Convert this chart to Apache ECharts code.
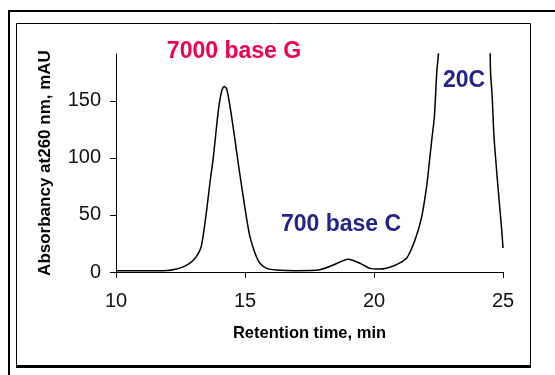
<!DOCTYPE html>
<html><head><meta charset="utf-8">
<script src="https://cdn.jsdelivr.net/npm/echarts@6/dist/echarts.min.js"></script>
<style>html,body{margin:0;padding:0;background:#fff}#c{width:555px;height:375px}</style>
</head><body><div id="c"></div>
<script>
// Retention time (min) and absorbance (mAU)
const retentionTime = [10.0, 11.0, 12.0, 12.3, 12.6, 12.85, 13.1, 13.3, 13.49, 13.64, 13.77, 13.97, 14.1, 14.19, 14.29, 14.44, 14.61, 14.74, 14.87, 15.04, 15.19, 15.39, 15.58, 15.84, 16.2, 17.0, 17.9, 18.42, 19.0, 19.46, 19.84, 20.23, 20.75, 21.26, 21.59, 21.85, 22.04, 22.14, 22.24, 22.34, 22.43, 22.5, 22.6, 23.5, 24.4, 24.5, 24.52, 24.58, 24.65, 24.75, 24.86, 24.95, 25.0];
const absorbance    = [1.0, 1.0, 1.4, 2.5, 4.5, 7.5, 13, 22, 50, 78, 100, 142, 159, 162.5, 160.5, 142, 116, 95, 75, 50, 31, 16.5, 7.6, 3.2, 1.8, 1.2, 2.0, 6.1, 11.1, 7.6, 3.2, 2.6, 5.3, 12, 28, 48.5, 75, 95, 116, 136, 174, 192, 240, 420, 240, 192, 174, 154, 119, 89.5, 60, 37, 21];
const xTicks = [10, 15, 20, 25];
const yTicks = [0, 50, 100, 150];
const peakLabels = ['7000 base G', '700 base C', '20C'];
const xTitle = 'Retention time, min';
const yTitle = 'Absorbancy at260 nm, mAU';

const FONT = '"Liberation Sans", Arial, sans-serif';
const chart = echarts.init(document.getElementById('c'), null, {renderer: 'canvas'});
chart.setOption({
  animation: false,
  backgroundColor: '#fff',
  grid: {left: 116, top: 54, right: 52, bottom: 103, containLabel: false},
  xAxis: {
    type: 'value', min: xTicks[0], max: xTicks[xTicks.length - 1], interval: 5,
    axisLine: {show: true, onZero: false, lineStyle: {color: '#000', width: 1}},
    axisTick: {show: true, inside: false, length: 6, lineStyle: {color: '#000'}},
    axisLabel: {fontSize: 20, color: '#111', fontFamily: FONT, margin: 19},
    splitLine: {show: false},
    name: xTitle, nameLocation: 'middle', nameGap: 53,
    nameTextStyle: {fontSize: 16.5, fontWeight: 'bold', color: '#000', fontFamily: FONT}
  },
  yAxis: {
    type: 'value', min: 0, max: 191, interval: 50,
    axisLine: {show: true, lineStyle: {color: '#000', width: 1}},
    axisTick: {show: true, inside: false, length: 6, lineStyle: {color: '#000'}, customValues: yTicks},
    axisLabel: {fontSize: 20, color: '#111', fontFamily: FONT, margin: 15, customValues: yTicks},
    splitLine: {show: false},
    name: yTitle, nameLocation: 'middle', nameGap: 62,
    nameTextStyle: {fontSize: 17, fontWeight: 'bold', color: '#000', fontFamily: FONT}
  },
  series: [{
    type: 'line',
    data: retentionTime.map((t, i) => [t, absorbance[i]]),
    showSymbol: false, smooth: 0.25, clip: true,
    lineStyle: {color: '#000', width: 1.5}
  }],
  graphic: [
    {type: 'polyline', shape: {points: [[9, 375], [9, 11], [555, 11]]}, style: {stroke: '#000', lineWidth: 2, fill: null}, silent: true},
    {type: 'rect', shape: {x: 16.5, y: 23.5, width: 514, height: 343}, style: {stroke: '#000', lineWidth: 1, fill: null}, silent: true},
    {type: 'line', shape: {x1: 16, y1: 366.5, x2: 531, y2: 366.5}, style: {stroke: '#000', lineWidth: 3}, silent: true},
    {type: 'text', x: 234, y: 52, style: {text: peakLabels[0], fill: '#EE0055', font: 'bold 23px ' + FONT, align: 'center', verticalAlign: 'middle'}},
    {type: 'text', x: 341, y: 225, style: {text: peakLabels[1], fill: '#23238C', font: 'bold 23px ' + FONT, align: 'center', verticalAlign: 'middle'}},
    {type: 'text', x: 464, y: 81, style: {text: peakLabels[2], fill: '#23238C', font: 'bold 23px ' + FONT, align: 'center', verticalAlign: 'middle'}}
  ]
});
</script>
</body></html>
